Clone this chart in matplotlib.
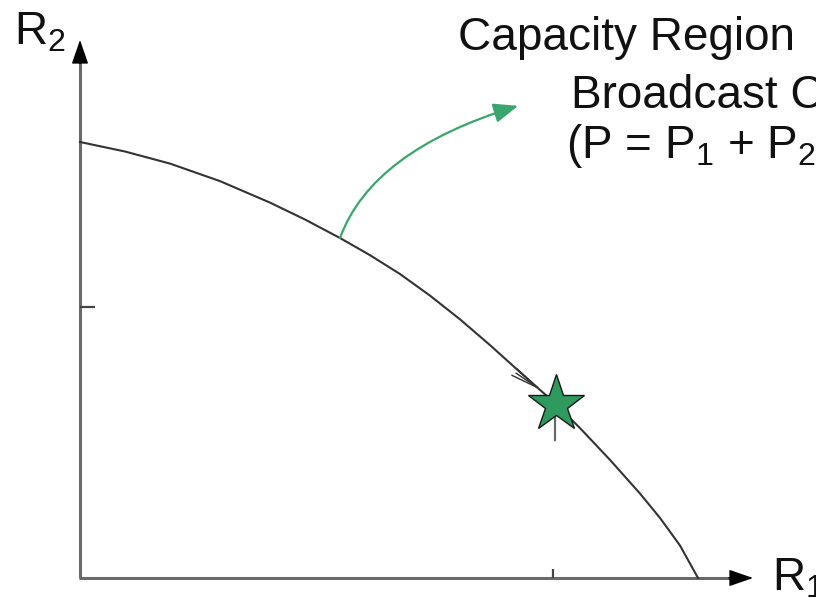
import matplotlib as mpl
import matplotlib.pyplot as plt

mpl.rcParams['font.family'] = ['Liberation Sans', 'DejaVu Sans']
mpl.rcParams['mathtext.fontset'] = 'custom'
mpl.rcParams['mathtext.rm'] = 'Liberation Sans'

# boundary of the capacity region, R1 / R2 normalised to their maxima
curve_r1 = [0, 0.0728, 0.1456, 0.2265, 0.3074, 0.3641, 0.4207, 0.4693,
            0.5178, 0.5663, 0.6149, 0.6634, 0.7120, 0.7702, 0.8091, 0.8576,
            0.9061, 0.9385, 0.9709, 1.0]
curve_r2 = [1.0, 0.9782, 0.9505, 0.9103, 0.8610, 0.8222, 0.7798, 0.7404,
            0.6972, 0.6477, 0.5933, 0.5342, 0.4722, 0.3989, 0.3438, 0.2709,
            0.1938, 0.1378, 0.0745, 0.0]

# operating point (on the boundary) and the axis ticks
star_idx = 13
tick_r1 = 0.7654
tick_r2 = 0.6216

# green pointer: leaves the boundary at point 6 and ends here
pointer_idx = 6
pointer_r1, pointer_r2 = 0.709, 1.083

title_lines = ['Capacity Region', 'Broadcast Channel',
               r'(P = P$_\mathregular{1}$ + P$_\mathregular{2}$)']

W, H = 816, 598
fig = plt.figure(figsize=(W / 100, H / 100), dpi=100)
ax = fig.add_axes([0, 0, 1, 1])
ax.set_xlim(-80 / 618, 736 / 618)
ax.set_ylim(-20 / 436, 578 / 436)
ax.axis('off')

axis_col = '#6a6a6a'
green = '#2e9a5e'

# axes with arrow heads
ax.plot([0, 0], [0, 1.20], color=axis_col, lw=2.2, solid_capstyle='butt', zorder=2)
ax.plot([-0.002, 1.06], [0, 0], color=axis_col, lw=2.2, solid_capstyle='butt', zorder=2)
head = dict(arrowstyle='-|>,head_length=0.75,head_width=0.26', color='black',
            lw=1, shrinkA=0, shrinkB=0, mutation_scale=20)
ax.annotate('', xy=(0, 1.234), xytext=(0, 1.18), arrowprops=head)
ax.annotate('', xy=(1.089, 0), xytext=(1.05, 0), arrowprops=head)

# small ticks
ax.plot([0, 0.0243], [tick_r2, tick_r2], color='#444444', lw=1.6, solid_capstyle='butt')
ax.plot([tick_r1, tick_r1], [0, 0.0206], color='#444444', lw=1.6, solid_capstyle='butt')

# boundary curve
ax.plot(curve_r1, curve_r2, color='#333333', lw=1.5, zorder=3,
        solid_joinstyle='round')

# narrow arrow head pointing along the boundary into the star
ax.annotate('', xy=(0.746, 0.431), xytext=(0.7055, 0.470),
            arrowprops=dict(arrowstyle='->,head_length=1.0,head_width=0.15',
                            color='#333333', lw=1.0, shrinkA=0, shrinkB=0,
                            mutation_scale=20), zorder=3)

# stem under the star and the star itself
star_r1, star_r2 = curve_r1[star_idx], curve_r2[star_idx]
ax.plot([star_r1 - 0.002, star_r1 - 0.002], [0.3165, star_r2], color=axis_col,
        lw=1.6, zorder=3)
ax.plot([star_r1], [star_r2], marker='*', ms=43, color=green,
        markeredgecolor='#1a1a1a', markeredgewidth=1.0, zorder=5)

# green pointer from the curve to the caption
ax.annotate('', xy=(pointer_r1, pointer_r2),
            xytext=(curve_r1[pointer_idx], curve_r2[pointer_idx]),
            arrowprops=dict(arrowstyle='-|>,head_length=0.75,head_width=0.3',
                            connectionstyle='angle3,angleA=70,angleB=17',
                            color='#3aa56c', lw=1.6, shrinkA=0, shrinkB=0,
                            mutation_scale=20), zorder=4)

# caption and axis labels
fs = 33
caption_pos = [(458, 50), (571, 108), (566, 158)]
for line, (px, py) in zip(title_lines, caption_pos):
    fig.text(px / W, 1 - py / H, line, fontsize=fs, va='baseline', ha='left',
             color='#111111')
fig.text(14 / W, 1 - 44 / H, r'R$_\mathregular{2}$', fontsize=fs, va='baseline',
         color='#111111')
fig.text(772 / W, 1 - 590 / H, r'R$_\mathregular{1}$', fontsize=fs, va='baseline',
         color='#111111')

fig.savefig('out.png', dpi=100)
